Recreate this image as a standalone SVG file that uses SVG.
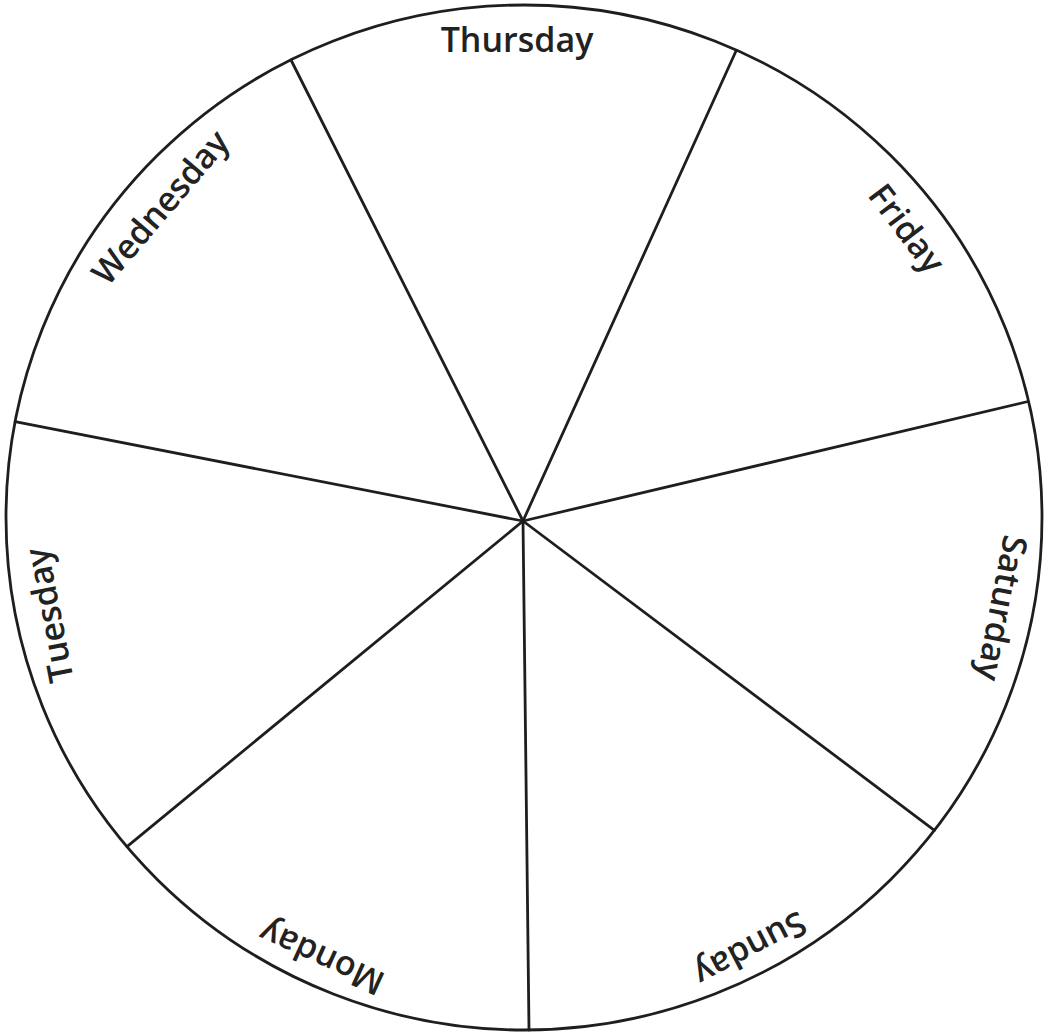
<svg xmlns="http://www.w3.org/2000/svg" width="1049" height="1032" viewBox="0 0 1049 1032">
<style>
.rim{fill:none;stroke:#1e1e1e;stroke-width:2.8}
.spoke{stroke:#1e1e1e;stroke-width:2.8;stroke-linecap:round}
.lbl{font-family:"Open Sans","Noto Sans","Liberation Sans",sans-serif;font-size:34px;font-weight:600;fill:#222;text-anchor:middle}
</style>
<rect width="1049" height="1032" fill="#fff"/>
<g id="wheel">
<ellipse class="rim" cx="524" cy="517.5" rx="518" ry="512.5"/>
</g>
<g id="connectors">
<line class="spoke" x1="523" y1="521" x2="291" y2="60"/>
<line class="spoke" x1="523" y1="521" x2="736" y2="51"/>
<line class="spoke" x1="523" y1="521" x2="1028" y2="401.5"/>
<line class="spoke" x1="523" y1="521" x2="934.4" y2="830.3"/>
<line class="spoke" x1="523" y1="521" x2="529" y2="1030"/>
<line class="spoke" x1="523" y1="521" x2="127" y2="846.6"/>
<line class="spoke" x1="523" y1="521" x2="15.1" y2="421.6"/>
</g>
<g id="thursday"><text class="lbl" transform="translate(517,41)" y="11">Thursday</text></g>
<g id="friday"><text class="lbl" transform="translate(906,229) rotate(52.9)" y="11">Friday</text></g>
<g id="saturday"><text class="lbl" transform="translate(1001,608) rotate(101)" y="11">Saturday</text></g>
<g id="sunday"><text class="lbl" transform="translate(750,948) rotate(152.3)" y="11">Sunday</text></g>
<g id="monday"><text class="lbl" transform="translate(322,957) rotate(204.5)" y="11">Monday</text></g>
<g id="tuesday"><text class="lbl" transform="translate(50,615) rotate(-101)" y="11">Tuesday</text></g>
<g id="wednesday"><text class="lbl" transform="translate(161,208) rotate(-49.5)" y="11">Wednesday</text></g>
</svg>
